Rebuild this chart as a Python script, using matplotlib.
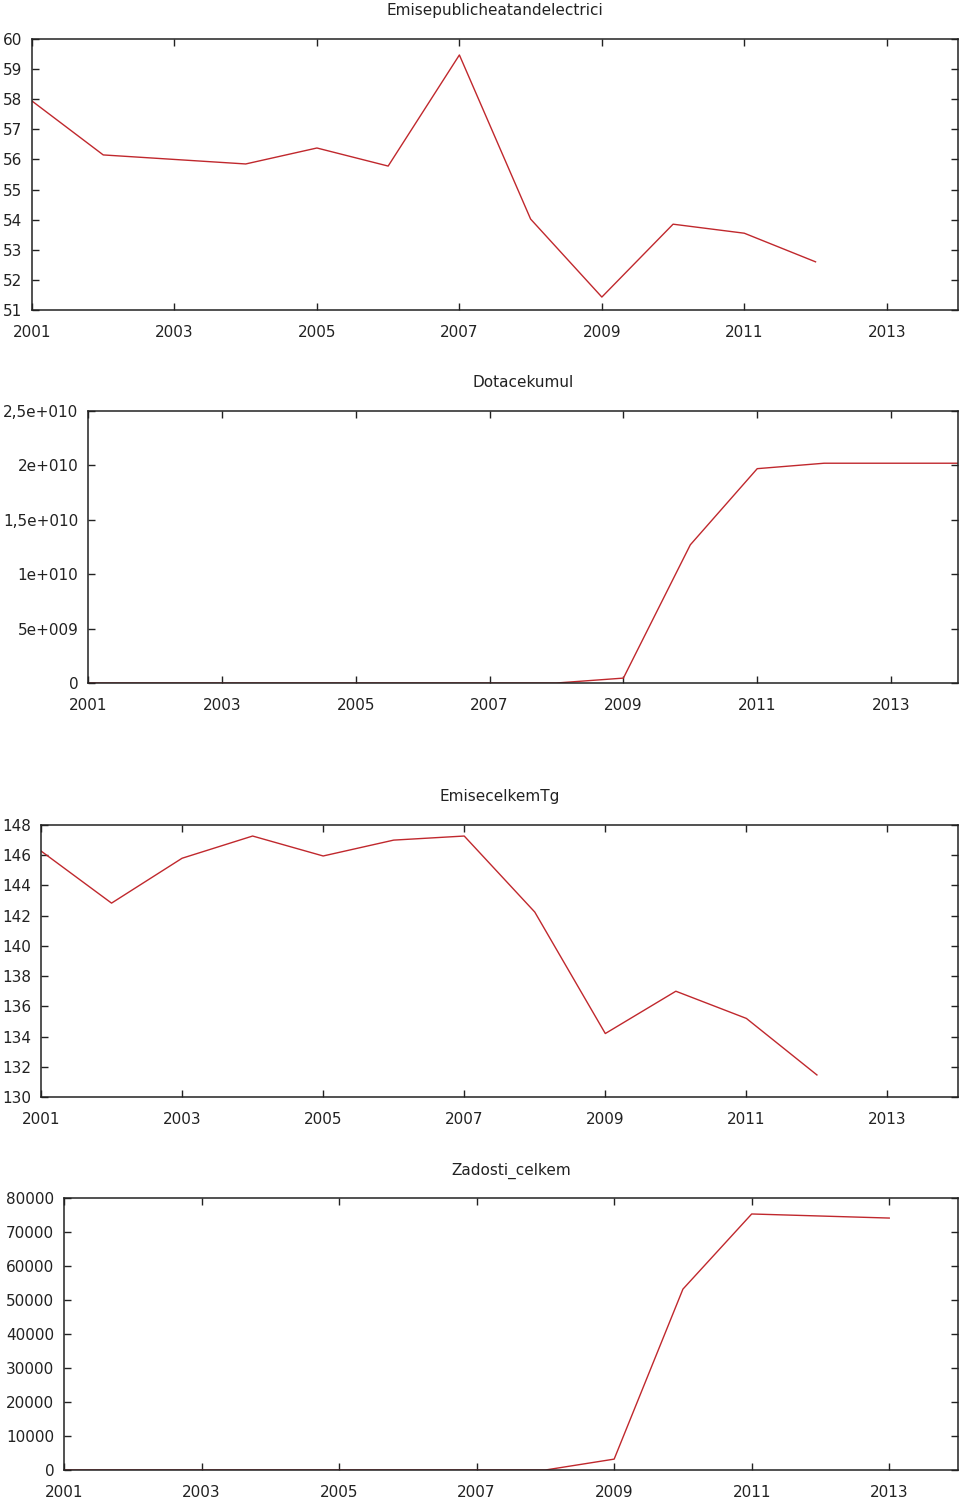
import matplotlib
matplotlib.use("Agg")
import matplotlib.pyplot as plt

plt.rcParams["font.family"] = ["DejaVu Sans"]

# ---------------------------------------------------------------------------
# Données
# ---------------------------------------------------------------------------

roky_emise = list(range(2001, 2013))
emise_public = [57.94, 56.15, 56.0, 55.85, 56.38, 55.78, 59.47, 54.02, 51.43, 53.85, 53.55, 52.6]

roky_dotace = list(range(2001, 2015))
dotace_kumul = [0, 0, 0, 0, 0, 0, 0, 0, 0.45e9, 1.27e10, 1.97e10, 2.02e10, 2.02e10, 2.02e10]

emise_celkem = [146.28, 142.83, 145.8, 147.27, 145.95, 147.0, 147.27, 142.24, 134.2, 137.0, 135.2, 131.46]

roky_zadosti = list(range(2001, 2014))
zadosti_celkem = [0, 0, 0, 0, 0, 0, 0, 0, 3200, 53200, 75300, 74700, 74100]

x_ticks = list(range(2001, 2015, 2))
dotace_ticks = [0, 5e9, 1e10, 1.5e10, 2e10, 2.5e10]
dotace_labels = ["0", "5e+009", "1e+010", "1,5e+010", "2e+010", "2,5e+010"]

# ---------------------------------------------------------------------------
# Mise en page (pixels)
# ---------------------------------------------------------------------------

W, H = 960, 1501
fig = plt.figure(figsize=(W / 100, H / 100), dpi=100)

COULEUR = "#c0282d"


def panneau(left, right, top, bottom):
    return fig.add_axes([left / W, 1 - bottom / H, (right - left) / W, (bottom - top) / H])


def styliser(ax, titre, ylim, yticks, ylabels=None):
    ax.set_xlim(2001, 2014)
    ax.set_ylim(*ylim)
    ax.set_xticks(x_ticks)
    ax.set_xticklabels([str(t) for t in x_ticks])
    if ylabels is None:
        ax.set_yticks(yticks)
    else:
        ax.set_yticks(yticks, ylabels)
    ax.tick_params(direction="in", length=5, width=1, top=True, right=True,
                   labelsize=11, colors="#222222", pad=7)
    ax.tick_params(axis="x", pad=10.5)
    for sp in ax.spines.values():
        sp.set_linewidth(1.1)
        sp.set_color("#222222")
    ax.set_title(titre, fontsize=11, pad=17, color="#222222")


ax1 = panneau(32, 958, 39, 310)
ax1.plot(roky_emise, emise_public, color=COULEUR, lw=1)
styliser(ax1, "Emisepublicheatandelectrici", (51, 60), list(range(51, 61)))

ax2 = panneau(88, 958, 411, 683)
ax2.plot(roky_dotace, dotace_kumul, color=COULEUR, lw=1)
styliser(ax2, "Dotacekumul", (0, 2.5e10), dotace_ticks, dotace_labels)

ax3 = panneau(41, 958, 825, 1097)
ax3.plot(roky_emise, emise_celkem, color=COULEUR, lw=1)
styliser(ax3, "EmisecelkemTg", (130, 148), list(range(130, 149, 2)))

ax4 = panneau(64, 958, 1198, 1470)
ax4.plot(roky_zadosti, zadosti_celkem, color=COULEUR, lw=1)
styliser(ax4, "Zadosti_celkem", (0, 80000), list(range(0, 80001, 10000)))

fig.savefig("out.png", dpi=100)
